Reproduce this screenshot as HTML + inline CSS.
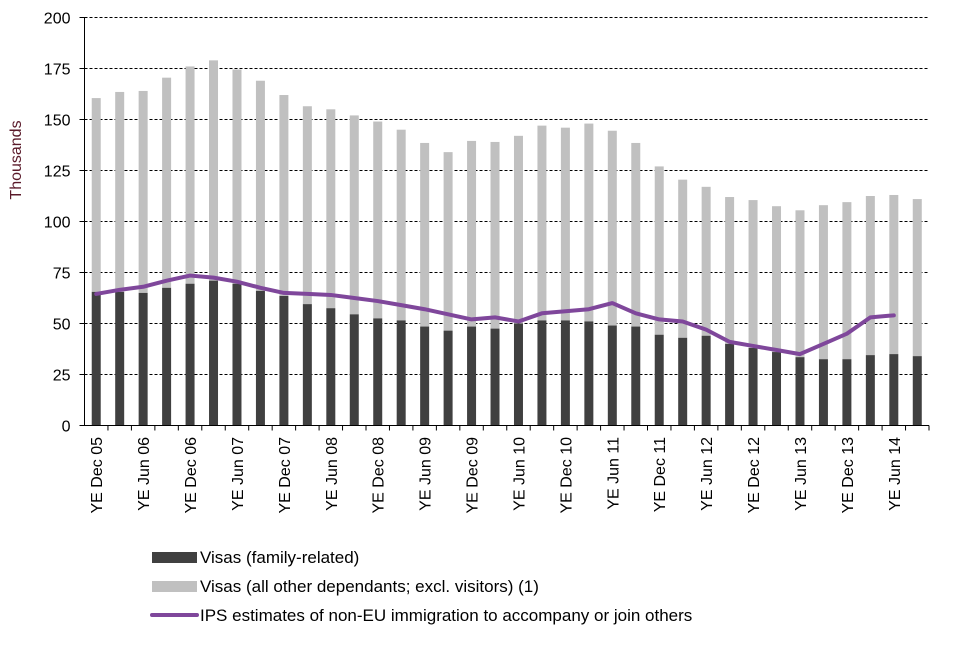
<!DOCTYPE html>
<html><head><meta charset="utf-8"><style>
body{margin:0;background:#fff;font-family:"Liberation Sans",sans-serif}
</style></head><body>
<svg id="chart" width="960" height="640" xmlns="http://www.w3.org/2000/svg" font-family="Liberation Sans, sans-serif">
<g id="grid"></g>
<g id="bars"></g>
<g id="line"></g>
<g id="axes"></g>
<text transform="translate(21,160) rotate(-90)" text-anchor="middle" font-size="16" fill="#5a1a2a">Thousands</text>
<g>
<rect x="152" y="552" width="45" height="11" fill="#404040"/>
<text x="200" y="563" font-size="17" fill="#000">Visas (family-related)</text>
<rect x="152" y="581" width="45" height="11" fill="#c0c0c0"/>
<text x="200" y="592" font-size="17" fill="#000">Visas (all other dependants; excl. visitors) (1)</text>
<line x1="152" y1="615" x2="197" y2="615" stroke="#7f479b" stroke-width="4" stroke-linecap="round"/>
<text x="200" y="621" font-size="17" fill="#000">IPS estimates of non-EU immigration to accompany or join others</text>
</g>
</svg>
<script>
const categories=["YE Dec 05","YE Mar 06","YE Jun 06","YE Sep 06","YE Dec 06","YE Mar 07","YE Jun 07","YE Sep 07","YE Dec 07","YE Mar 08","YE Jun 08","YE Sep 08","YE Dec 08","YE Mar 09","YE Jun 09","YE Sep 09","YE Dec 09","YE Mar 10","YE Jun 10","YE Sep 10","YE Dec 10","YE Mar 11","YE Jun 11","YE Sep 11","YE Dec 11","YE Mar 12","YE Jun 12","YE Sep 12","YE Dec 12","YE Mar 13","YE Jun 13","YE Sep 13","YE Dec 13","YE Mar 14","YE Jun 14","YE Sep 14"];
const totalVisas=[160.5,163.5,164,170.5,176,179,174.5,169,162,156.5,155,152,149,145,138.5,134,139.5,139,142,147,146,148,144.5,138.5,127,120.5,117,112,110.5,107.5,105.5,108,109.5,112.5,113,111];
const familyVisas=[65.5,65.5,65,67.5,69.5,71,69.5,66,63.5,59.5,57.5,54.5,52.5,51.5,48.5,46.5,48.5,47.5,50,51.5,51.5,51,49,48.5,44.5,43,44,40,38,36,33.5,32.5,32.5,34.5,35,34];
const ipsEstimates=[64.5,66.5,68,71,73.5,72.5,70.5,67.5,65,64.5,64,62.5,61,59,57,54.5,52,53,51,55,56,57,60,55,52,51,47,41,39,37,35,40,45,53,54];
const yTicks=[0,25,50,75,100,125,150,175,200];
const NS="http://www.w3.org/2000/svg";
const X0=84.5,X1=929,Y0=425.5,Y1=17.5,YMAX=200;
const bw=(X1-X0)/categories.length;
const y=v=>Y0-(v/YMAX)*(Y0-Y1);
const xc=i=>X0+bw*(i+0.5);
function mk(tag,attrs,parent){const e=document.createElementNS(NS,tag);for(const k in attrs)e.setAttribute(k,attrs[k]);parent.appendChild(e);return e;}
const grid=document.getElementById('grid'),bars=document.getElementById('bars'),lineG=document.getElementById('line'),axes=document.getElementById('axes');
yTicks.forEach(t=>{
  if(t>0){const g=mk('line',{x1:X0,x2:X1,y1:y(t),y2:y(t),stroke:'#000','stroke-width':1,'stroke-dasharray':'3,2'},grid);
  
  }
  const tk=mk('line',{x1:X0-5,x2:X0,y1:y(t),y2:y(t),stroke:'#000'},axes);
  
  
  const tl=mk('text',{x:X0-14,y:y(t)+6,'text-anchor':'end','font-size':16,fill:'#000'},axes);
  tl.textContent=t;
  
  
});
categories.forEach((c,i)=>{
  const x=xc(i)-4.5;
  const r1=mk('rect',{x:x,y:y(totalVisas[i]),width:9,height:y(familyVisas[i])-y(totalVisas[i]),fill:'#c0c0c0'},bars);
  
  
  const r2=mk('rect',{x:x,y:y(familyVisas[i]),width:9,height:Y0-y(familyVisas[i]),fill:'#404040'},bars);
  
  
  const tk=mk('line',{x1:X0+bw*(i+1),x2:X0+bw*(i+1),y1:Y0,y2:Y0+5,stroke:'#000'},axes);
  
  
  if(i%2===0){
    const t=mk('text',{transform:`translate(${xc(i)+6},437) rotate(-90)`,'text-anchor':'end','font-size':16,fill:'#000'},axes);
    t.textContent=c;
    
    
  }
});
const pl=mk('polyline',{points:ipsEstimates.map((v,i)=>xc(i)+','+y(v)).join(' '),fill:'none',stroke:'#7f479b','stroke-width':4,'stroke-linejoin':'round','stroke-linecap':'round'},lineG);


const ax=mk('line',{x1:X0,x2:X0,y1:Y1,y2:Y0,stroke:'#000'},axes);


const bx=mk('line',{x1:X0-5,x2:X1,y1:Y0,y2:Y0,stroke:'#000'},axes);


</script>
</body></html>
